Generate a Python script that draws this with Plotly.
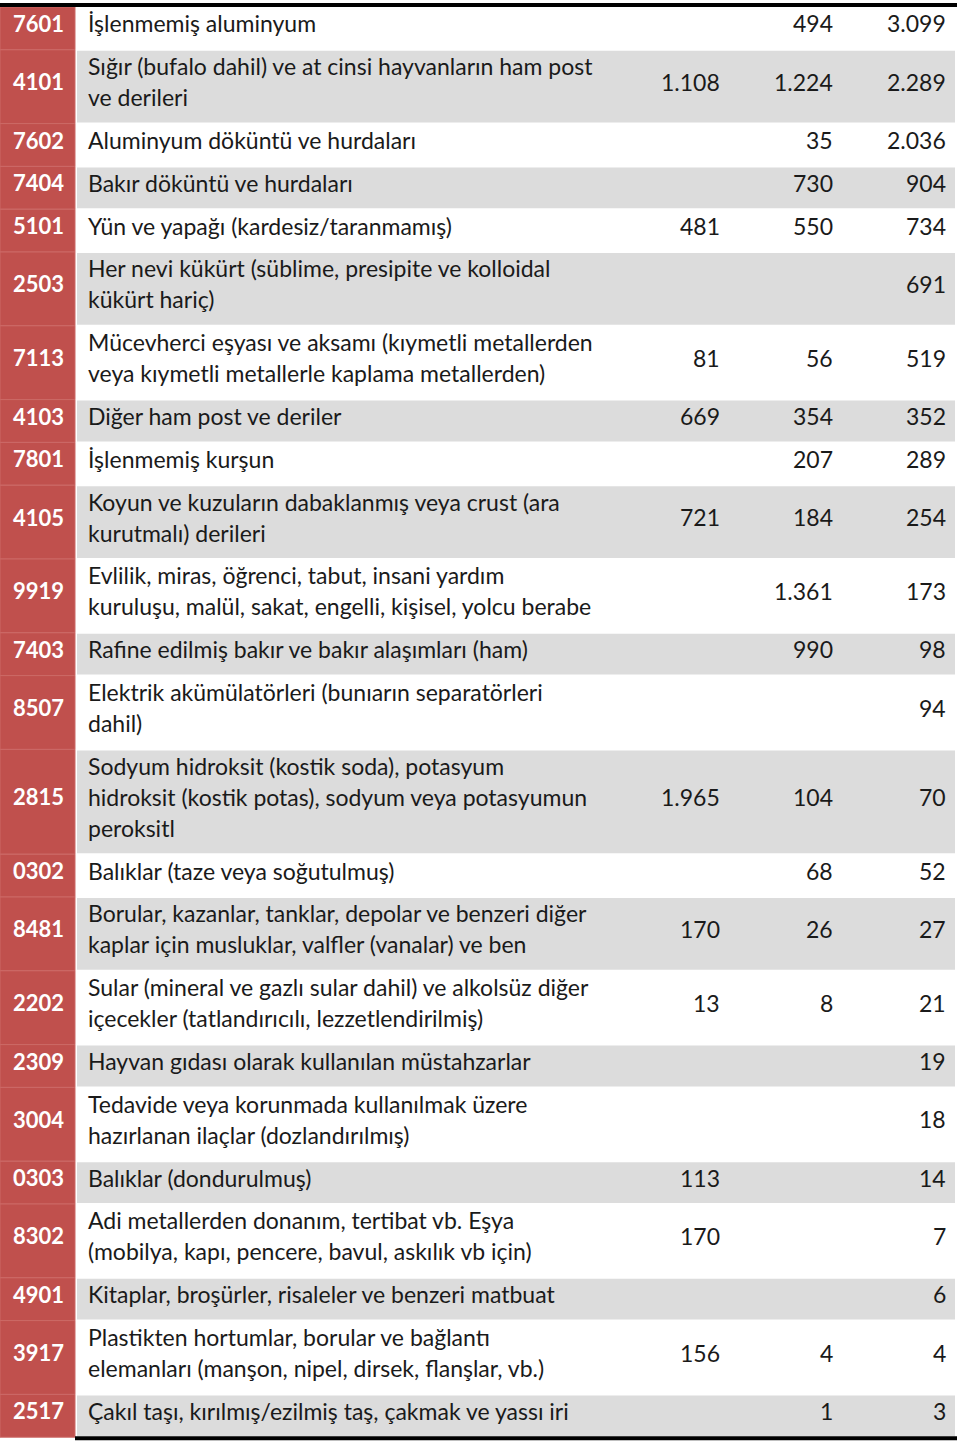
import plotly.graph_objects as go

# GTIP codes, descriptions (lines split by <br>) and the three value columns
codes = ["7601", "4101", "7602", "7404", "5101", "2503", "7113", "4103", "7801", "4105",
         "9919", "7403", "8507", "2815", "0302", "8481", "2202", "2309", "3004", "0303",
         "8302", "4901", "3917", "2517"]

descriptions = [
    "İşlenmemiş aluminyum",
    "Sığır (bufalo dahil) ve at cinsi hayvanların ham post<br>ve derileri",
    "Aluminyum döküntü ve hurdaları",
    "Bakır döküntü ve hurdaları",
    "Yün ve yapağı (kardesiz/taranmamış)",
    "Her nevi kükürt (süblime, presipite ve kolloidal<br>kükürt hariç)",
    "Mücevherci eşyası ve aksamı (kıymetli metallerden<br>veya kıymetli metallerle kaplama metallerden)",
    "Diğer ham post ve deriler",
    "İşlenmemiş kurşun",
    "Koyun ve kuzuların dabaklanmış veya crust (ara<br>kurutmalı) derileri",
    "Evlilik, miras, öğrenci, tabut, insani yardım<br>kuruluşu, malül, sakat, engelli, kişisel, yolcu berabe",
    "Rafine edilmiş bakır ve bakır alaşımları (ham)",
    "Elektrik akümülatörleri (bunıarın separatörleri<br>dahil)",
    "Sodyum hidroksit (kostik soda), potasyum<br>hidroksit (kostik potas), sodyum veya potasyumun<br>peroksitl",
    "Balıklar (taze veya soğutulmuş)",
    "Borular, kazanlar, tanklar, depolar ve benzeri diğer<br>kaplar için musluklar, valfler (vanalar) ve ben",
    "Sular (mineral ve gazlı sular dahil) ve alkolsüz diğer<br>içecekler (tatlandırıcılı, lezzetlendirilmiş)",
    "Hayvan gıdası olarak kullanılan müstahzarlar",
    "Tedavide veya korunmada kullanılmak üzere<br>hazırlanan ilaçlar (dozlandırılmış)",
    "Balıklar (dondurulmuş)",
    "Adi metallerden donanım, tertibat vb. Eşya<br>(mobilya, kapı, pencere, bavul, askılık vb için)",
    "Kitaplar, broşürler, risaleler ve benzeri matbuat",
    "Plastikten hortumlar, borular ve bağlantı<br>elemanları (manşon, nipel, dirsek, flanşlar, vb.)",
    "Çakıl taşı, kırılmış/ezilmiş taş, çakmak ve yassı iri",
]

col1 = ["", "1.108", "", "", "481", "", "81", "669", "", "721", "", "", "", "1.965", "",
        "170", "13", "", "", "113", "170", "", "156", ""]
col2 = ["494", "1.224", "35", "730", "550", "", "56", "354", "207", "184", "1.361", "990", "",
        "104", "68", "26", "8", "", "", "", "", "", "4", "1"]
col3 = ["3.099", "2.289", "2.036", "904", "734", "691", "519", "352", "289", "254", "173", "98",
        "94", "70", "52", "27", "21", "19", "18", "14", "7", "6", "4", "3"]

RED = "#C0504D"
GREY = "#DCDCDC"
TXT = "#1a1a1a"
FONT = "Lato"
FS = 23
LINE_H = 31
PAD = 5.9
UP = 5  # text sits a bit above the row middle

fig = go.Figure()
shapes = []
ann = []

y = 7
for i, code in enumerate(codes):
    lines = descriptions[i].split("<br>")
    h = 2 * PAD + LINE_H * len(lines)
    top, bot = y, y + h
    mid = (top + bot) / 2 - UP
    # code cell
    shapes.append(dict(type="rect", x0=0, x1=75, y0=top, y1=bot, fillcolor=RED,
                       line=dict(color="#CC6966", width=1), layer="below"))
    # row band
    fill = GREY if i % 2 == 1 else "white"
    shapes.append(dict(type="rect", x0=77, x1=955, y0=top + 1, y1=bot - 1, fillcolor=fill,
                       line=dict(width=0), layer="below"))
    ann.append(dict(x=38, y=mid, text="<b>" + code + "</b>", showarrow=False,
                    xanchor="center", yanchor="middle",
                    font=dict(family=FONT, size=FS - 1, color="white")))
    for j, ln in enumerate(lines):
        ann.append(dict(x=86, y=top + PAD + LINE_H * (j + 0.5) - UP, text=ln, showarrow=False,
                        xanchor="left", yanchor="middle",
                        font=dict(family=FONT, size=FS, color=TXT)))
    for xr, col in [(722, col1), (835, col2), (948, col3)]:
        if col[i]:
            ann.append(dict(x=xr, y=mid, text=col[i], showarrow=False,
                            xanchor="right", yanchor="middle",
                            font=dict(family=FONT, size=FS, color=TXT)))
    y = bot

# top and bottom rules
shapes.append(dict(type="line", x0=0, x1=957, y0=5, y1=5, line=dict(color="black", width=4)))
shapes.append(dict(type="line", x0=75, x1=957, y0=y + 1, y1=y + 1,
                   line=dict(color="black", width=4)))

fig.update_layout(
    width=960, height=1443,
    margin=dict(l=0, r=0, t=0, b=0),
    paper_bgcolor="white", plot_bgcolor="white",
    xaxis=dict(range=[0, 960], visible=False, fixedrange=True),
    yaxis=dict(range=[1443, 0], visible=False, fixedrange=True),
    shapes=shapes, annotations=ann, showlegend=False,
)

fig.write_html("out.html", config={"displayModeBar": False},
               post_script="document.body.style.margin='0';")
